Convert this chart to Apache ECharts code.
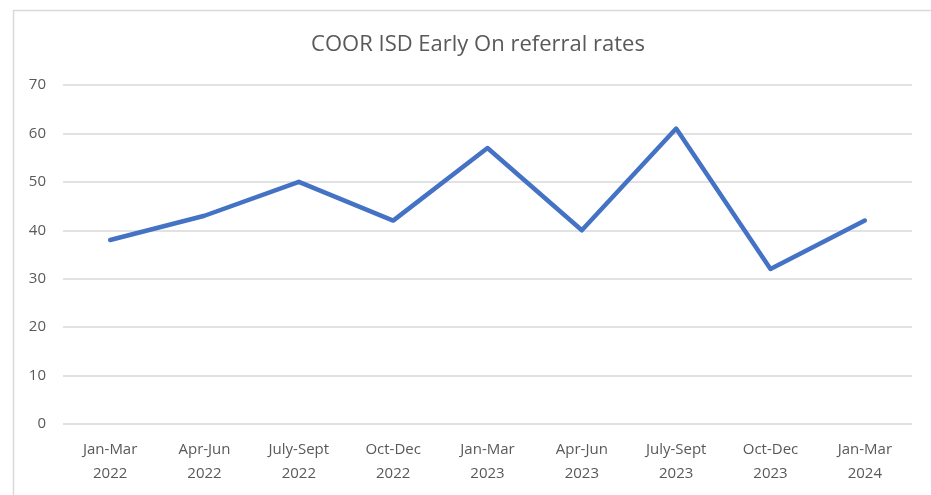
<!DOCTYPE html>
<html><head><meta charset="utf-8">
<script src="https://cdn.jsdelivr.net/npm/echarts@6/dist/echarts.min.js"></script>
<style>html,body{margin:0;padding:0;background:#fff}#c{width:931px;height:495px}</style>
</head><body><div id="c"></div>
<script>
const categories = ['Jan-Mar\n2022','Apr-Jun\n2022','July-Sept\n2022','Oct-Dec\n2022','Jan-Mar\n2023','Apr-Jun\n2023','July-Sept\n2023','Oct-Dec\n2023','Jan-Mar\n2024'];
const referralRates = [38, 43, 50, 42, 57, 40, 61, 32, 42];
const yTicks = {min: 0, max: 70, interval: 10};

const chart = echarts.init(document.getElementById('c'), null, {renderer: 'canvas'});
chart.setOption({
  animation: false,
  title: {
    text: 'COOR ISD Early On referral rates',
    left: 473, top: 29, textAlign: 'center',
    textStyle: {fontFamily: 'Open Sans', fontSize: 22, fontWeight: 'normal', color: '#595959'}
  },
  graphic: [{
    type: 'rect', left: 11, top: 8, shape: {width: 1000, height: 600},
    style: {fill: 'none', stroke: '#d9d9d9', lineWidth: 1.5}, silent: true, z: -1
  }],
  grid: {left: 63, right: 19, top: 85, bottom: 71},
  xAxis: {
    type: 'category', data: categories, boundaryGap: true,
    axisLine: {show: false}, axisTick: {show: false},
    axisLabel: {fontFamily: 'Open Sans', fontSize: 15, color: '#595959', lineHeight: 24, margin: 14}
  },
  yAxis: {
    type: 'value', min: yTicks.min, max: yTicks.max, interval: yTicks.interval,
    axisLine: {show: false}, axisTick: {show: false},
    axisLabel: {fontFamily: 'Open Sans', fontSize: 15, color: '#595959', margin: 17},
    splitLine: {lineStyle: {color: '#d9d9d9', width: 1.5}}
  },
  series: [{
    type: 'line', data: referralRates, showSymbol: false, symbol: 'none',
    lineStyle: {color: '#4472C4', width: 4.5, cap: 'round', join: 'round'}
  }]
});
</script></body></html>
